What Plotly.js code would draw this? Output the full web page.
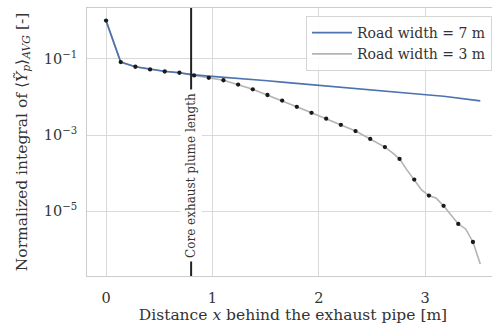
<!DOCTYPE html>
<html>
<head>
<meta charset="utf-8">
<script src="https://cdn.plot.ly/plotly-3.0.1.min.js"></script>
<style>
html, body { margin: 0; padding: 0; overflow: hidden; background: #fff; }
#chart { width: 500px; height: 329px; }
</style>
</head>
<body>
<div id="chart"></div>
<script>
// x positions of the fine line samples (m)
const xFine = [0, 0.069, 0.138, 0.207, 0.276, 0.345, 0.414, 0.483, 0.552, 0.621,
  0.69, 0.759, 0.828, 0.897, 0.966, 1.035, 1.104, 1.173, 1.242, 1.311,
  1.38, 1.449, 1.518, 1.587, 1.656, 1.725, 1.794, 1.863, 1.932, 2.001,
  2.07, 2.139, 2.208, 2.277, 2.346, 2.415, 2.484, 2.553, 2.622, 2.691,
  2.76, 2.829, 2.898, 2.967, 3.036, 3.105, 3.174, 3.243, 3.312, 3.381,
  3.45, 3.519];

// Road width = 3 m
const narrowY = [1.0, 0.286, 0.082, 0.0711, 0.0617, 0.0569, 0.0524, 0.0493, 0.0464, 0.0447,
  0.043, 0.0395, 0.0365, 0.034, 0.0317, 0.0294, 0.0273, 0.024, 0.0211, 0.0183,
  0.0158, 0.0133, 0.0112, 0.00946, 0.008, 0.00664, 0.0055, 0.00459, 0.00383, 0.00321,
  0.00269, 0.00223, 0.00185, 0.00153, 0.00127, 0.001, 0.00079, 0.00062, 0.000484, 0.000347,
  0.000237, 0.000122, 6.8e-5, 3.65e-5, 2.58e-5, 2.21e-5, 1.39e-5, 8.05e-6, 4.67e-6, 3.45e-6,
  1.57e-6, 4.16e-7];

// Road width = 7 m
const wideX = [0, 0.138, 0.276, 0.414, 0.552, 0.69, 0.828, 0.966, 1.104, 1.242,
  1.38, 1.518, 1.656, 1.794, 1.932, 2.07, 2.208, 2.346, 2.484, 2.622,
  2.76, 2.898, 3.036, 3.174, 3.312, 3.45, 3.519];
const wideY = [1.0, 0.0819, 0.0616, 0.053, 0.047, 0.043, 0.038, 0.0352, 0.0331, 0.0308,
  0.0286, 0.0265, 0.0245, 0.0226, 0.021, 0.019, 0.0174, 0.0161, 0.0149, 0.0139,
  0.0129, 0.0121, 0.0112, 0.0104, 0.0093, 0.0083, 0.0079];

const seriesNames = ["Road width = 7 m", "Road width = 3 m"];
const coreLength = 0.8;
const yTickVals = [1e-1, 1e-3, 1e-5];
const yTickText = ["10<sup>\u22121</sup>", "10<sup>\u22123</sup>", "10<sup>\u22125</sup>"];
const xTickVals = [0, 1, 2, 3];

const dotX = xFine.filter((_, i) => i % 2 === 0);
const dotY = narrowY.filter((_, i) => i % 2 === 0);

const FONT = "DejaVu Serif, serif";
const TXT = "#333333";

const traces = [
  { x: xFine, y: narrowY, mode: "lines", name: seriesNames[1], legendrank: 2,
    line: { color: "#b3b3b3", width: 1.6 } },
  { x: wideX, y: wideY, mode: "lines", name: seriesNames[0], legendrank: 1,
    line: { color: "#4c72b0", width: 1.7 } },
  { x: dotX, y: dotY, mode: "markers", showlegend: false,
    marker: { color: "#1a1a1a", size: 4.3 } }
];

const layout = {
  width: 500, height: 329,
  margin: { l: 87, r: 1, t: 8, b: 53 },
  paper_bgcolor: "#fff", plot_bgcolor: "#fff",
  font: { family: FONT, size: 14.5, color: TXT },
  showlegend: true,
  legend: { x: 0.983, y: 0.97, xanchor: "right", yanchor: "top",
    bgcolor: "rgba(255,255,255,0.85)", bordercolor: "#d5d5d5", borderwidth: 1,
    font: { family: FONT, size: 14, color: TXT }, tracegroupgap: 0, itemwidth: 40 },
  xaxis: { range: [-0.179, 3.695], tickvals: xTickVals, ticks: "", showgrid: true,
    gridcolor: "#d9d9d9", gridwidth: 1, zeroline: false, showline: true, linecolor: "#cccccc",
    mirror: true, ticklabelstandoff: 9,
    title: { text: "Distance <i>x</i> behind the exhaust pipe [m]", standoff: 2,
      font: { family: FONT, size: 15.5, color: TXT } } },
  yaxis: { type: "log", range: [-6.696, 0.331], tickvals: yTickVals, ticktext: yTickText,
    ticks: "", showgrid: true, gridcolor: "#d9d9d9", gridwidth: 1, zeroline: false,
    showline: true, linecolor: "#cccccc", mirror: true, ticklabelstandoff: 6,
    title: { text: "Normalized integral of \u27e8<i>Y\u0303</i><sub><i>p</i></sub>\u27e9<sub><i>AVG</i></sub> [-]",
      standoff: 12, font: { family: FONT, size: 15.5, color: TXT } } },
  shapes: [
    { type: "line", xref: "x", yref: "paper", x0: coreLength, x1: coreLength, y0: 0, y1: 1,
      line: { color: "#222", width: 2 } }
  ],
  annotations: [
    { x: coreLength, y: -4.07, xref: "x", yref: "y", text: "Core exhaust plume length",
      textangle: -90, showarrow: false, bgcolor: "#fff", borderpad: 3,
      font: { family: FONT, size: 12, color: TXT } }
  ]
};

Plotly.newPlot("chart", traces, layout, { displayModeBar: false, staticPlot: true });
</script>
</body>
</html>
